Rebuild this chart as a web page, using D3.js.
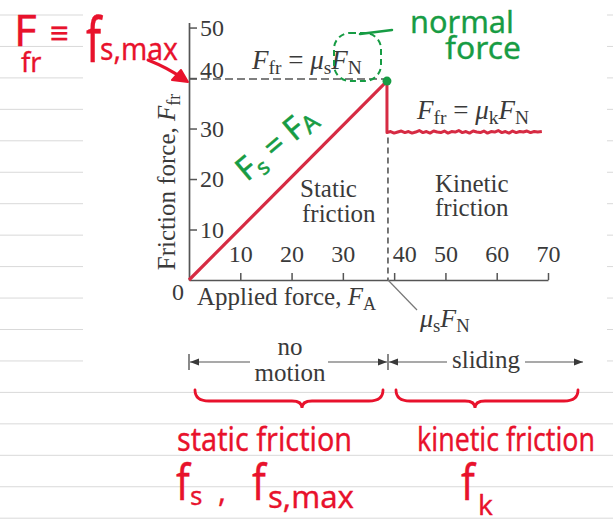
<!DOCTYPE html>
<html><head><meta charset="utf-8">
<script src="https://cdn.jsdelivr.net/npm/d3@7"></script>
<style>
html,body{margin:0;padding:0;background:#fff;}
svg{display:block;}
.fig text{font-family:"Liberation Serif","Times New Roman",serif;fill:#3a3a3a;}
.hand text{font-family:"Noto Sans",sans-serif;font-weight:400;}
</style></head><body>
<script>
const W = 613, H = 523;

// Axis ticks
const xTicks = [10, 20, 30, 40, 50, 60, 70];
const yTicks = [10, 20, 30, 40, 50];

// Static friction grows with the applied force up to its maximum, μs·FN
const staticFA  = [0, 38.6];
const staticFfr = [0, 39.4];

// Once sliding starts friction drops to the (slightly uneven) kinetic value μk·FN
const kineticFA  = [38.6, 38.6, 39.3, 40.0, 40.7, 41.4, 42.1, 42.8, 43.5, 44.2, 44.9, 45.6, 46.3, 47.0, 47.7,
                    48.4, 49.1, 49.8, 50.5, 51.2, 51.9, 52.6, 53.3, 54.0, 54.7, 55.4, 56.1, 56.8, 57.5, 58.2,
                    58.9, 59.6, 60.3, 61.0, 61.7, 62.4, 63.1, 63.8, 64.5, 65.2, 65.9, 66.6, 67.3, 68.0, 68.8];
const kineticFfr = [39.4, 29.2, 29.4, 29.1, 29.3, 29.5, 29.2, 29.4, 29.1, 29.3, 29.6, 29.2, 29.4, 29.1, 29.5,
                    29.3, 29.2, 29.5, 29.1, 29.4, 29.3, 29.6, 29.2, 29.4, 29.1, 29.5, 29.3, 29.2, 29.5, 29.1,
                    29.4, 29.3, 29.6, 29.2, 29.4, 29.1, 29.5, 29.2, 29.4, 29.3, 29.5, 29.2, 29.4, 29.3, 29.4];

const peakFA = staticFA[1], peakFfr = staticFfr[1];
const kineticLevel = kineticFfr[1];

const INK = "#3a3a3a", AXIS = "#555", LINE_RED = "#d62b43";
const PEN_RED = "#e8122c", PEN_GREEN = "#179c44";

const svg = d3.select("body").append("svg").attr("width", W).attr("height", H);

// notebook page: ruled lines, with the pasted figure on a white patch
const rules = svg.append("g");
for (let ry = 15; ry < H; ry += 31.45) {
  rules.append("line").attr("x1", 0).attr("x2", W).attr("y1", ry).attr("y2", ry)
    .attr("stroke", "#d9d9d9").attr("stroke-width", 1);
}
svg.append("rect").attr("x", 83).attr("y", 0).attr("width", 524).attr("height", 386).attr("fill", "#fff");

const fig = svg.append("g").attr("class", "fig");

const x = d3.scaleLinear().domain([0, 70]).range([189, 548]);
const y = d3.scaleLinear().domain([0, 51]).range([280, 22.5]);

// x axis: ticks and labels sit above the line
const gx = fig.append("g").attr("transform", `translate(0,${y(0)})`)
  .call(d3.axisTop(x).tickValues(xTicks).tickSizeInner(7).tickSizeOuter(0).tickPadding(11).tickFormat(d3.format("d")));
// y axis: ticks and labels sit to the right of the line
const gy = fig.append("g").attr("transform", `translate(${x(0)},0)`)
  .call(d3.axisRight(y).tickValues(yTicks).tickSizeInner(8).tickSizeOuter(0).tickPadding(3).tickFormat(d3.format("d")));

[gx, gy].forEach(g => {
  g.attr("font-family", null).attr("font-size", null);
  g.select(".domain").attr("stroke", AXIS).attr("stroke-width", 1.7);
  g.selectAll(".tick line").attr("stroke", AXIS).attr("stroke-width", 1.5);
  g.selectAll(".tick text").attr("fill", INK).style("font-size", "24px");
});
// the "40" labels make room for the dashed guide lines
gx.selectAll(".tick text").filter(d => d === 40).attr("x", 10);
gy.selectAll(".tick text").filter(d => d === 40).attr("y", -8);

fig.append("text").attr("x", 178).attr("y", 300).attr("text-anchor", "middle").style("font-size", "24px").text("0");

// axis titles
const xt = fig.append("text").attr("x", 197).attr("y", 305).style("font-size", "25px");
xt.append("tspan").text("Applied force, ");
xt.append("tspan").attr("font-style", "italic").text("F");
xt.append("tspan").attr("dy", 5).style("font-size", "18px").text("A");

const yt = fig.append("text").attr("transform", "translate(175,182) rotate(-90)")
  .attr("text-anchor", "middle").style("font-size", "25px");
yt.append("tspan").text("Friction force, ");
yt.append("tspan").attr("font-style", "italic").text("F");
yt.append("tspan").attr("dy", 5).style("font-size", "18px").text("fr");

// dashed guides at the maximum static friction
fig.append("line").attr("x1", x(0)).attr("x2", x(peakFA)).attr("y1", y(peakFfr) - 2).attr("y2", y(peakFfr) - 2)
  .attr("stroke", "#555").attr("stroke-width", 1.6).attr("stroke-dasharray", "8,4");
fig.append("line").attr("x1", x(peakFA) + 1).attr("x2", x(peakFA) + 1).attr("y1", y(kineticLevel) + 5).attr("y2", y(0))
  .attr("stroke", "#555").attr("stroke-width", 1.6).attr("stroke-dasharray", "6,4");

// friction curves
const line = d3.line().x(d => x(d[0])).y(d => y(d[1]));
fig.append("path").datum(d3.zip(staticFA, staticFfr)).attr("d", line)
  .attr("fill", "none").attr("stroke", LINE_RED).attr("stroke-width", 3.2);
fig.append("path").datum(d3.zip(kineticFA, kineticFfr)).attr("d", line)
  .attr("fill", "none").attr("stroke", LINE_RED).attr("stroke-width", 3).attr("stroke-linejoin", "round");

// formula labels
function formula(xp, yp, parts, size) {
  const t = fig.append("text").attr("x", xp).attr("y", yp).style("font-size", size + "px");
  parts.forEach(p => {
    const s = t.append("tspan").text(p[0]);
    if (p[1] === "i") s.attr("font-style", "italic");
    if (p[1] === "sub") s.attr("dy", 5).style("font-size", (size * 0.72) + "px");
    if (p[1] === "up") s.attr("dy", -5);
    if (p[1] === "iup") s.attr("dy", -5).attr("font-style", "italic");
  });
  return t;
}
formula(252, 69, [["F", "i"], ["fr", "sub"], [" = ", "up"], ["μ", "i"], ["s", "sub"], ["F", "iup"], ["N", "sub"]], 27);
formula(417, 119, [["F", "i"], ["fr", "sub"], [" = ", "up"], ["μ", "i"], ["k", "sub"], ["F", "iup"], ["N", "sub"]], 27);
formula(420, 327, [["μ", "i"], ["s", "sub"], ["F", "iup"], ["N", "sub"]], 26);
fig.append("line").attr("x1", x(peakFA) + 1).attr("y1", y(0)).attr("x2", 417).attr("y2", 310)
  .attr("stroke", "#777").attr("stroke-width", 1.2);

// region labels
[["Static", 300, 197], ["friction", 302, 222], ["Kinetic", 435, 192], ["friction", 435, 216]].forEach(d => {
  fig.append("text").attr("x", d[1]).attr("y", d[2]).style("font-size", "25px").text(d[0]);
});

// motion ranges below the axis
const ay = 362;
function head(xp, dir) {
  fig.append("path").attr("d", `M${xp},${ay}l${-9 * dir},-3.5v7z`).attr("fill", INK);
}
fig.append("line").attr("x1", 189).attr("x2", 189).attr("y1", ay - 8).attr("y2", ay + 8).attr("stroke", INK).attr("stroke-width", 1.2);
fig.append("line").attr("x1", 388).attr("x2", 388).attr("y1", ay - 8).attr("y2", ay + 8).attr("stroke", INK).attr("stroke-width", 1.2);
[[190, 250], [328, 387], [389, 447], [525, 583]].forEach(s => {
  fig.append("line").attr("x1", s[0]).attr("x2", s[1]).attr("y1", ay).attr("y2", ay).attr("stroke", "#555").attr("stroke-width", 1.2);
});
head(190, -1); head(387, 1); head(389, -1); head(583, 1);
fig.append("text").attr("x", 290).attr("y", 355).attr("text-anchor", "middle").style("font-size", "25px").text("no");
fig.append("text").attr("x", 290).attr("y", 381).attr("text-anchor", "middle").style("font-size", "25px").text("motion");
fig.append("text").attr("x", 486).attr("y", 368).attr("text-anchor", "middle").style("font-size", "25px").text("sliding");

// handwritten notes
const hand = svg.append("g").attr("class", "hand");
function note(txt, xp, yp, size, color, len, sy) {
  const t = hand.append("text").style("font-size", size + "px")
    .attr("fill", color).attr("stroke", color).attr("stroke-width", 0.3).attr("stroke-linejoin", "round").text(txt);
  if (sy) t.attr("transform", `translate(${xp},${yp}) scale(1,${sy})`);
  else t.attr("x", xp).attr("y", yp);
  if (len) t.attr("textLength", len).attr("lengthAdjust", "spacingAndGlyphs");
  return t;
}
// F_fr ≡ f_s,max
note("F", 14, 46, 44, PEN_RED);
note("fr", 21, 72, 27, PEN_RED);
note("≡", 50, 44, 32, PEN_RED);
note("f", 86, 62, 44, PEN_RED, null, 1.4);
note("s,max", 100, 60, 30, PEN_RED, 78);
hand.append("path").attr("d", "M148,60 Q168,68 182,78").attr("fill", "none")
  .attr("stroke", PEN_RED).attr("stroke-width", 3).attr("stroke-linecap", "round");
hand.append("path").attr("d", "M188,82 L172,80 L181,70 Z").attr("fill", PEN_RED)
  .attr("stroke", PEN_RED).attr("stroke-width", 2).attr("stroke-linejoin", "round");

// braces and labels for the two regimes
function brace(x1, x2, xm) {
  hand.append("path")
    .attr("d", `M${x1},390 Q${x1},401 ${x1 + 14},401 L${xm - 10},401 Q${xm},401 ${xm},408 Q${xm},401 ${xm + 10},401 L${x2 - 14},401 Q${x2},401 ${x2},390`)
    .attr("fill", "none").attr("stroke", PEN_RED).attr("stroke-width", 2.8).attr("stroke-linecap", "round");
}
brace(195, 383, 302);
brace(396, 578, 475);
note("static friction", 177, 451, 32, PEN_RED, 175);
note("kinetic friction", 417, 451, 32, PEN_RED, 178);
note("f", 176, 500, 40, PEN_RED, null, 1.25);
note("s", 190, 505, 26, PEN_RED);
note(",", 218, 502, 30, PEN_RED);
note("f", 252, 500, 40, PEN_RED, null, 1.25);
note("s,max", 268, 508, 30, PEN_RED, 86);
note("f", 461, 500, 40, PEN_RED, null, 1.25);
note("k", 478, 515, 28, PEN_RED);

// green notes: F_s = F_A along the rising line, normal force
const g = hand.append("text").attr("transform", "translate(283,152) rotate(-40)").attr("text-anchor", "middle")
  .style("font-size", "32px").attr("fill", PEN_GREEN).attr("stroke", PEN_GREEN).attr("stroke-width", 0.5);
g.append("tspan").text("F");
g.append("tspan").attr("dy", 6).style("font-size", "22px").text("s");
g.append("tspan").attr("dy", -6).text(" = F");
g.append("tspan").attr("dy", 4).style("font-size", "24px").text("A");
hand.append("circle").attr("cx", x(peakFA)).attr("cy", y(peakFfr)).attr("r", 4.5).attr("fill", PEN_GREEN);
hand.append("rect").attr("x", 334).attr("y", 33).attr("width", 47).attr("height", 48).attr("rx", 16)
  .attr("fill", "none").attr("stroke", PEN_GREEN).attr("stroke-width", 2).attr("stroke-dasharray", "6,4");
hand.append("path").attr("d", "M360,34 L392,30").attr("stroke", PEN_GREEN).attr("stroke-width", 2.5).attr("stroke-linecap", "round");
note("normal", 410, 33, 30, PEN_GREEN, 104);
note("force", 445, 59, 30, PEN_GREEN, 76);
</script>
</body></html>
